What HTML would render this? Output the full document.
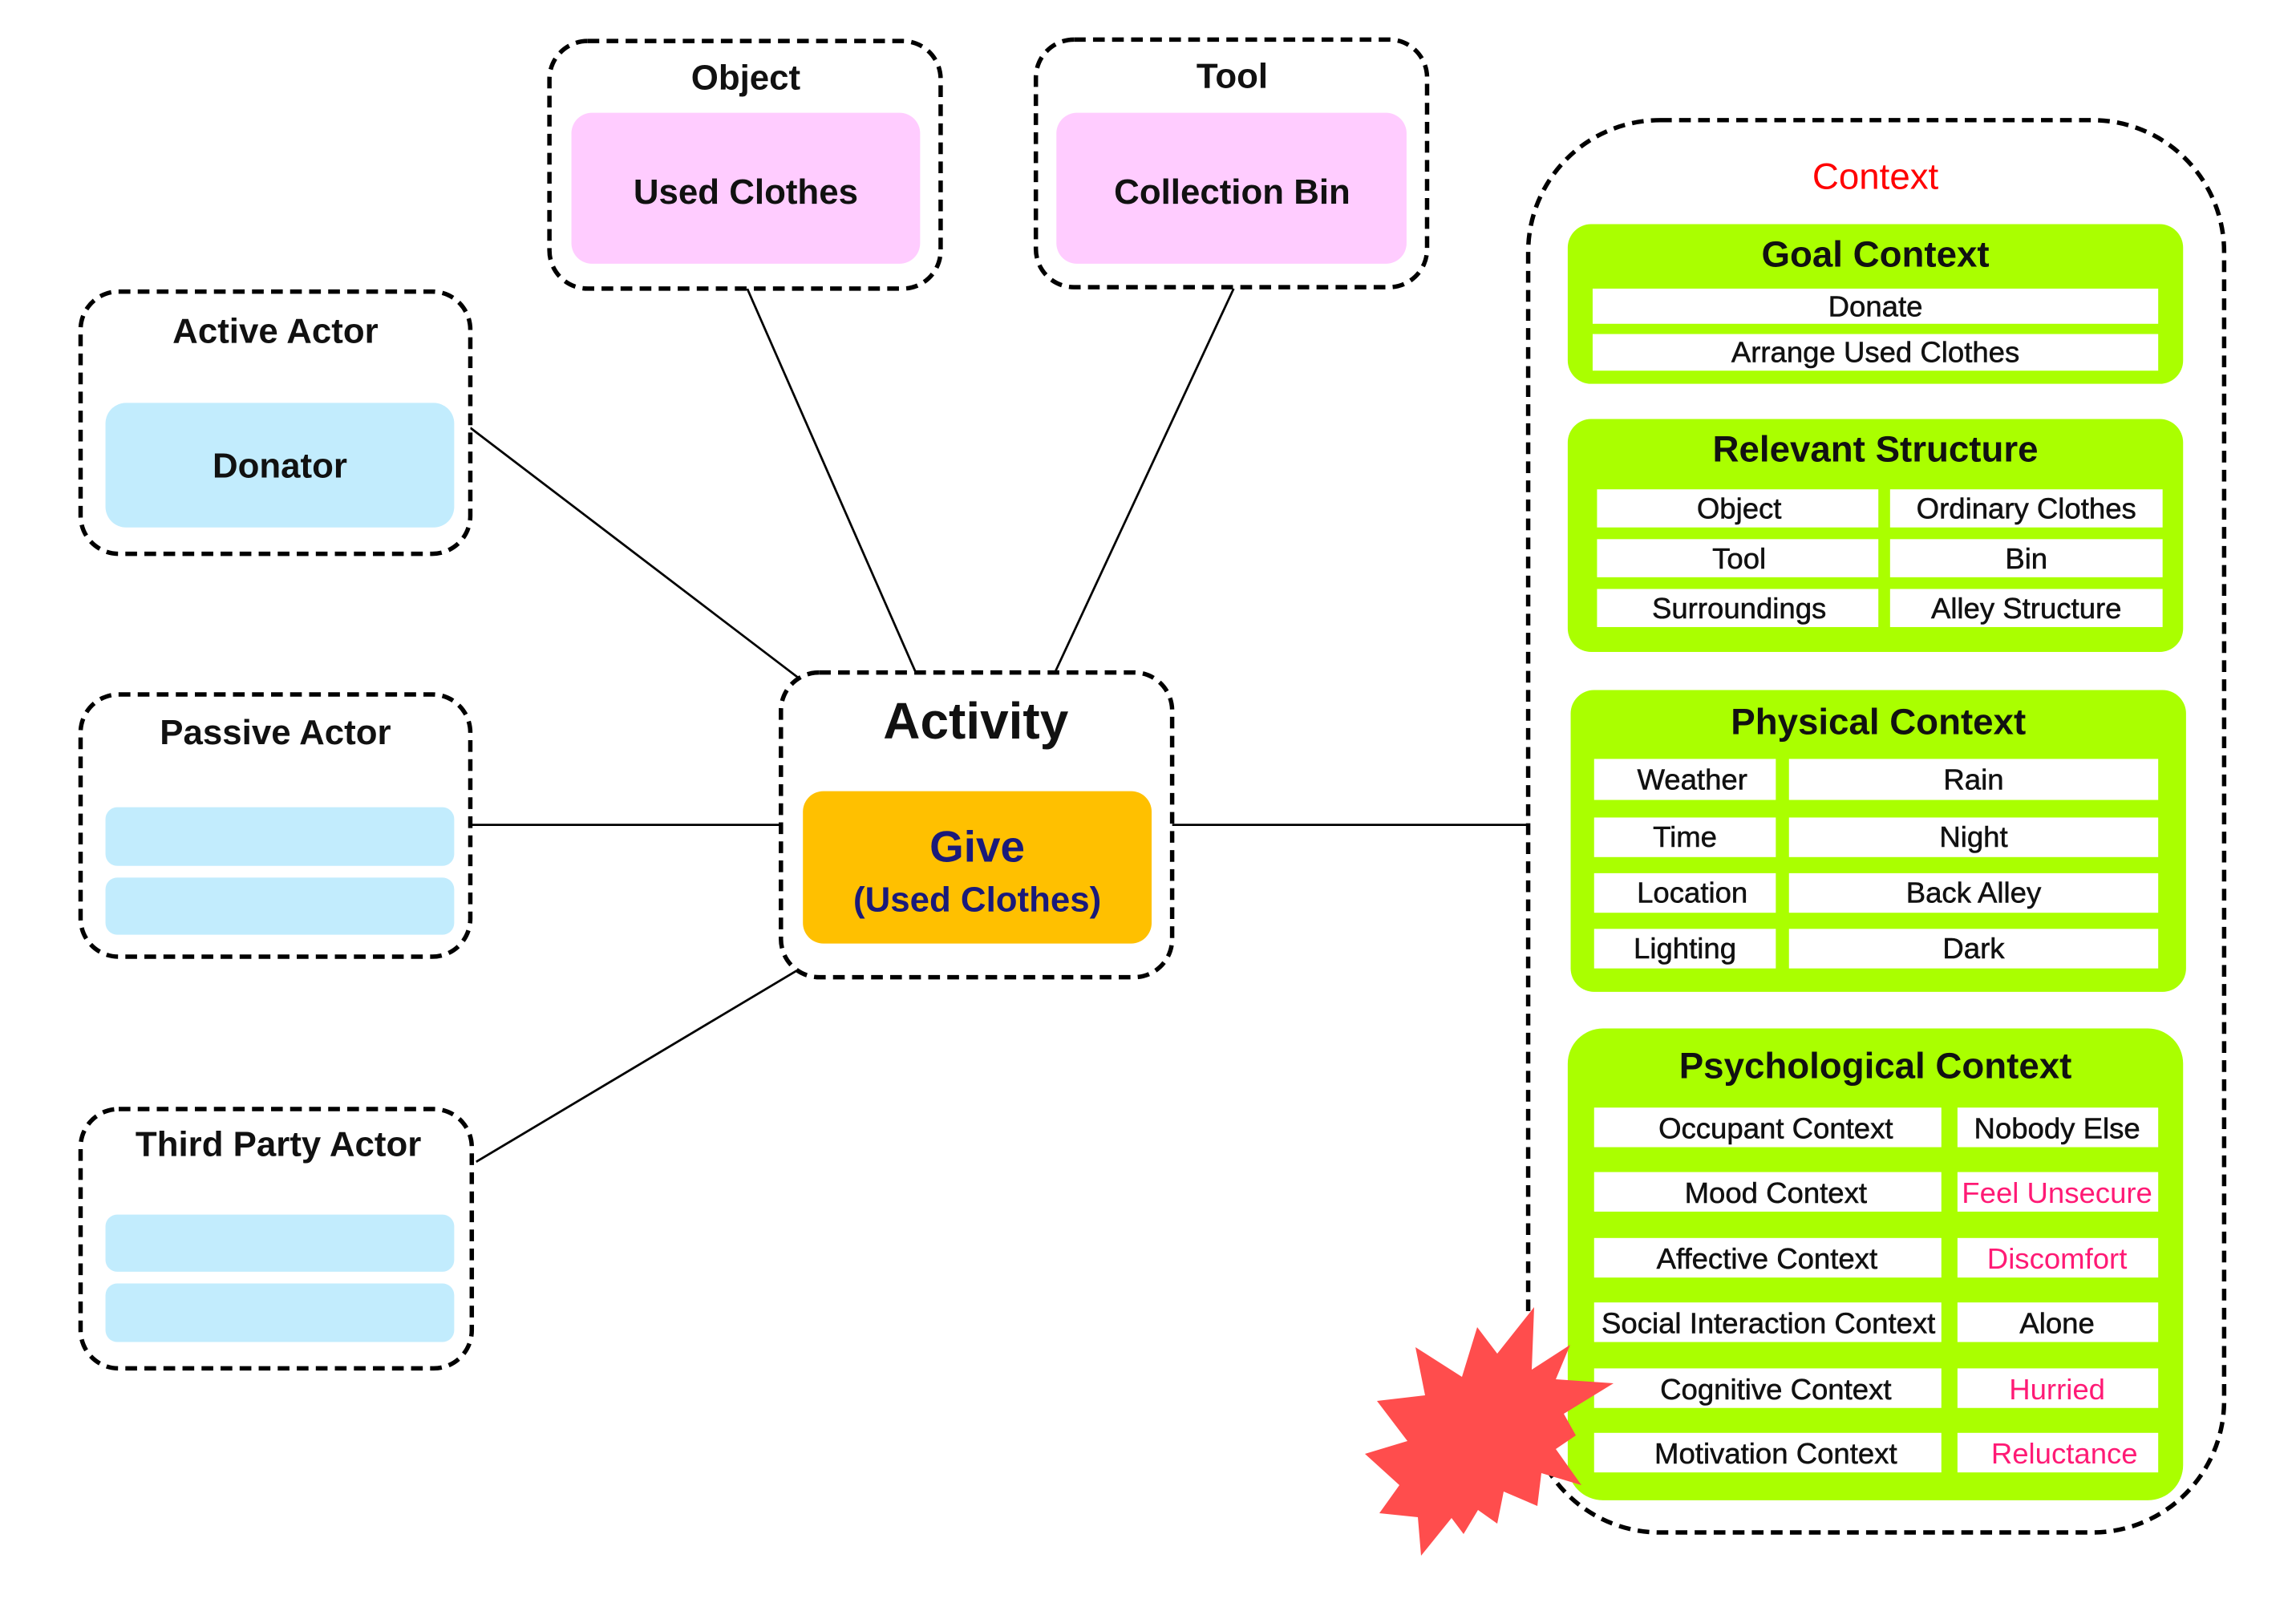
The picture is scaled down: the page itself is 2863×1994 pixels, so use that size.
<!DOCTYPE html>
<html><head><meta charset="utf-8"><style>html,body{margin:0;padding:0;background:#fff}svg{display:block}</style></head><body>
<svg width="2863" height="1994" viewBox="0 0 2863 1994" xmlns="http://www.w3.org/2000/svg">
<g transform="scale(1.827,1.827)" font-family="Liberation Sans, Arial, sans-serif" font-weight="bold" text-anchor="middle">
<g stroke="#000" stroke-width="1.5" fill="none">
<line x1="321" y1="292" x2="548" y2="465"/><line x1="510" y1="197" x2="625" y2="459"/>
<line x1="842" y1="197" x2="720" y2="459"/><line x1="321" y1="563" x2="533" y2="563"/>
<line x1="800" y1="563" x2="1043" y2="563"/><line x1="325" y1="793" x2="548" y2="660"/>
</g>
<g stroke="#000" stroke-width="3" stroke-dasharray="8,5" fill="#fff">
<rect x="375" y="28" width="267" height="169" rx="26"/>
<rect x="707" y="27" width="267" height="169" rx="26"/>
<rect x="55" y="199" width="266" height="179" rx="26"/>
<rect x="55" y="474" width="266" height="179" rx="26"/>
<rect x="55" y="757" width="267" height="177" rx="26"/>
<rect x="533" y="459" width="267" height="208" rx="26"/>
<rect x="1043" y="82" width="475" height="964" rx="90"/>
</g>
<rect x="390" y="77" width="238" height="103" rx="14" fill="#ffccff"/>
<rect x="721" y="77" width="239" height="103" rx="14" fill="#ffccff"/>
<rect x="72" y="275" width="238" height="85" rx="14" fill="#c2ecfd"/>
<rect x="72" y="551" width="238" height="40" rx="8" fill="#c2ecfd"/>
<rect x="72" y="599" width="238" height="39" rx="8" fill="#c2ecfd"/>
<rect x="72" y="829" width="238" height="39" rx="8" fill="#c2ecfd"/>
<rect x="72" y="876" width="238" height="40" rx="8" fill="#c2ecfd"/>
<rect x="548" y="540" width="238" height="104" rx="14" fill="#ffc000"/>
<g font-size="24" fill="#111">
<text x="509" y="61">Object</text><text x="841" y="60">Tool</text>
<text x="188" y="234">Active Actor</text><text x="188" y="508">Passive Actor</text>
<text x="190" y="789">Third Party Actor</text>
<text x="509" y="139">Used Clothes</text><text x="841" y="139">Collection Bin</text>
<text x="191" y="326">Donator</text>
</g>
<text x="666" y="504" font-size="35" fill="#111">Activity</text>
<text x="667" y="588" font-size="30" fill="#1a1a7a">Give</text>
<text x="667" y="622" font-size="24" fill="#1a1a7a">(Used Clothes)</text>
<text x="1280" y="129" font-size="25" fill="#ff0000" font-weight="normal">Context</text>
<g fill="#aaff00">
<rect x="1070" y="153" width="420" height="109" rx="16"/>
<rect x="1070" y="286" width="420" height="159" rx="16"/>
<rect x="1072" y="471" width="420" height="206" rx="16"/>
<rect x="1070" y="702" width="420" height="322" rx="24"/>
</g>
<g font-size="25" fill="#111">
<text x="1280" y="182">Goal Context</text><text x="1280" y="315">Relevant Structure</text>
<text x="1282" y="501">Physical Context</text><text x="1280" y="736">Psychological Context</text>
</g>
<g fill="#fff">
<rect x="1087" y="197" width="386" height="24"/><rect x="1087" y="228" width="386" height="25"/>
<rect x="1090" y="334" width="192" height="26"/><rect x="1290" y="334" width="186" height="26"/>
<rect x="1090" y="368" width="192" height="26"/><rect x="1290" y="368" width="186" height="26"/>
<rect x="1090" y="402" width="192" height="26"/><rect x="1290" y="402" width="186" height="26"/>
<rect x="1088" y="518" width="124" height="28"/><rect x="1221" y="518" width="252" height="28"/>
<rect x="1088" y="558" width="124" height="27"/><rect x="1221" y="558" width="252" height="27"/>
<rect x="1088" y="596" width="124" height="27"/><rect x="1221" y="596" width="252" height="27"/>
<rect x="1088" y="634" width="124" height="27"/><rect x="1221" y="634" width="252" height="27"/>
<rect x="1088" y="756" width="237" height="27"/><rect x="1336" y="756" width="137" height="27"/>
<rect x="1088" y="800" width="237" height="27"/><rect x="1336" y="800" width="137" height="27"/>
<rect x="1088" y="845" width="237" height="27"/><rect x="1336" y="845" width="137" height="27"/>
<rect x="1088" y="889" width="237" height="27"/><rect x="1336" y="889" width="137" height="27"/>
<rect x="1088" y="934" width="237" height="27"/><rect x="1336" y="934" width="137" height="27"/>
<rect x="1088" y="978" width="237" height="27"/><rect x="1336" y="978" width="137" height="27"/>
</g>
<g font-size="20" font-weight="normal" fill="#111" stroke="#111" stroke-width="0.3">
<text x="1280" y="216">Donate</text><text x="1280" y="247">Arrange Used Clothes</text>
<text x="1187" y="354">Object</text><text x="1383" y="354">Ordinary Clothes</text>
<text x="1187" y="388">Tool</text><text x="1383" y="388">Bin</text>
<text x="1187" y="422">Surroundings</text><text x="1383" y="422">Alley Structure</text>
<text x="1155" y="539">Weather</text><text x="1347" y="539">Rain</text>
<text x="1150" y="578">Time</text><text x="1347" y="578">Night</text>
<text x="1155" y="616">Location</text><text x="1347" y="616">Back Alley</text>
<text x="1150" y="654">Lighting</text><text x="1347" y="654">Dark</text>
<text x="1212" y="777">Occupant Context</text><text x="1404" y="777">Nobody Else</text>
<text x="1212" y="821">Mood Context</text>
<text x="1206" y="866">Affective Context</text>
<text x="1207" y="910">Social Interaction Context</text><text x="1404" y="910">Alone</text>
<text x="1212" y="955">Cognitive Context</text>
<text x="1212" y="999">Motivation Context</text>
</g>
<g font-size="20" font-weight="normal" fill="#ff1a75">
<text x="1404" y="821">Feel Unsecure</text><text x="1404" y="866">Discomfort</text>
<text x="1404" y="955">Hurried</text><text x="1409" y="999">Reluctance</text>
</g>
</g>
<polygon fill="#ff4d4d" points="1913,1630 1910,1708 1958,1677 1940,1720 2012,1725 1950,1763 1965,1790 1940,1807 1972,1852 1922,1837 1917,1878 1875,1860 1867,1900 1843,1883 1825,1913 1810,1893 1772,1940 1768,1892 1720,1887 1745,1852 1702,1813 1755,1797 1717,1747 1777,1740 1765,1680 1823,1717 1842,1655 1867,1688"/>
</svg>
</body></html>
